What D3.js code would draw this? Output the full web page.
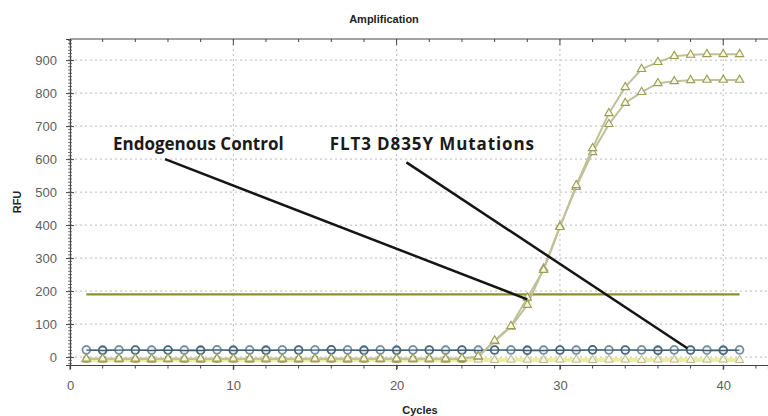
<!DOCTYPE html>
<html>
<head>
<meta charset="utf-8">
<script src="https://cdn.jsdelivr.net/npm/d3@7"></script>
<style>
  body { margin: 0; background: #fff; }
  .tick text { font-family: "Liberation Sans", Arial, sans-serif; }
</style>
</head>
<body>
<div class="container"></div>
<script>
// Chart data
const cycles = [1,2,3,4,5,6,7,8,9,10,11,12,13,14,15,16,17,18,19,20,21,22,23,24,25,26,27,28,29,30,31,32,33,34,35,36,37,38,39,40,41];
const ampUpper = [-5,-5,-5,-5,-5,-5,-5,-5,-5,-5,-5,-5,-5,-5,-5,-5,-5,-5,-5,-5,-5,-5,-5,-4,2,50,94,180,264,394,521,633,739,818,873,894,912,916,918,918,918];
const ampLower = [-5,-5,-5,-5,-5,-5,-5,-5,-5,-5,-5,-5,-5,-5,-5,-5,-5,-5,-5,-5,-5,-5,-5,-4,1,48,92,158,268,396,515,621,706,770,803,830,836,839,840,840,840];
const ctrlLight = [22,22,22,22,22,22,22,22,22,22,22,22,22,22,22,22,22,22,22,22,22,22,22,22,22,22,22,22,22,22,22,22,22,22,22,22,22,22,22,22,22];
const ctrlDark = [21,20,21,21,20,21,20,20,22,20,21,20,21,21,21,22,21,20,21,20,21,21,20,21,20,21,21,20,20,21,20,22,21,21,21,20,21,21,20,20,21];
const negSquares = [-7,-6,-6,-7,-6,-6,-7,-6,-7,-7,-6,-6,-7,-6,-6,-7,-6,-7,-6,-7,-6,-6,-6,-7];
const negTriangles = [-8,-9,-8,-8,-9,-8,-8,-9,-8,-8,-9,-8,-8,-9,-8,-8,-9,-8,-8,-9,-8,-8,-9,-8,-8,-9,-8,-8,-9,-8,-8,-9,-8,-8,-9,-8,-8,-9,-8,-8,-9];
const threshold = 190;
const yTicks = [0,100,200,300,400,500,600,700,800,900];
const xTicks = [0,10,20,30,40];
const notes = [
  {label: "Endogenous Control", tx: 2.63, ty: 627, from: [5.82, 600], to: [28.0, 175]},
  {label: "FLT3 D835Y Mutations", tx: 15.9, ty: 627, from: [20.6, 590], to: [37.8, 27]}
];

// Define the dimensions
const w = 768;
const h = 416;
const padLeft = 70, padTop = 39, axisY = 365;

// Create scales
const xScale = d3.scaleLinear().domain([0, 42.74]).range([padLeft, w]);
const yScale = d3.scaleLinear().domain([-24, 964]).range([axisY, padTop]);

// Create SVG container
const svg = d3.select(".container")
       .append("svg")
       .attr("width", w)
       .attr("height", h);

// Grid lines
svg.append("g")
       .selectAll("line")
       .data(yTicks)
       .enter()
       .append("line")
       .attr("x1", padLeft).attr("x2", w)
       .attr("y1", d => yScale(d)).attr("y2", d => yScale(d))
       .attr("stroke", "#b9b9b9")
       .attr("stroke-dasharray", "2,3");
svg.append("g")
       .selectAll("line")
       .data(xTicks.slice(1))
       .enter()
       .append("line")
       .attr("x1", d => xScale(d)).attr("x2", d => xScale(d))
       .attr("y1", padTop).attr("y2", axisY)
       .attr("stroke", "#b9b9b9")
       .attr("stroke-dasharray", "2,3");

// Threshold line
svg.append("line")
       .attr("x1", xScale(cycles[0]))
       .attr("x2", xScale(cycles[cycles.length - 1]))
       .attr("y1", yScale(threshold))
       .attr("y2", yScale(threshold))
       .attr("stroke", "#8f8f2c")
       .attr("stroke-width", 2.2);

const line = d3.line()
       .x((d, i) => xScale(cycles[i]))
       .y(d => yScale(d));

// Negative samples near baseline
svg.append("path")
       .attr("d", line(negTriangles))
       .attr("fill", "none")
       .attr("stroke", "#ecec9e")
       .attr("stroke-width", 4);
svg.append("path")
       .attr("d", line(negSquares))
       .attr("fill", "none")
       .attr("stroke", "#b5b56a")
       .attr("stroke-width", 1.2);

const tri = d3.symbol().type(d3.symbolTriangle).size(30);
const sq = d3.symbol().type(d3.symbolSquare).size(26);

svg.append("g")
       .selectAll("path")
       .data(negTriangles)
       .enter()
       .append("path")
       .attr("d", tri)
       .attr("transform", (d, i) => `translate(${xScale(cycles[i])},${yScale(d)})`)
       .attr("fill", "#f6f6e4")
       .attr("stroke", "#b8b88a")
       .attr("stroke-width", 1);
svg.append("g")
       .selectAll("path")
       .data(negSquares)
       .enter()
       .append("path")
       .attr("d", sq)
       .attr("transform", (d, i) => `translate(${xScale(cycles[i])},${yScale(d)})`)
       .attr("fill", (d, i) => i % 3 == 0 ? "#e8e8c0" : "#9a9a34")
       .attr("stroke", "#7f7f2a")
       .attr("stroke-width", 1);

// Control circles
[ctrlLight, ctrlDark].forEach((series, k) => {
  svg.append("path")
       .attr("d", line(series))
       .attr("fill", "none")
       .attr("stroke", k ? "#3f5c70" : "#8aa4b6")
       .attr("stroke-width", 1.3);
  svg.append("g")
       .selectAll("circle")
       .data(series)
       .enter()
       .append("circle")
       .attr("cx", (d, i) => xScale(cycles[i]))
       .attr("cy", d => yScale(d))
       .attr("r", 3.9)
       .attr("fill", "#f4f7f9")
       .attr("fill-opacity", k ? 0 : 1)
       .attr("stroke", k ? "#3a5a72" : "#8ea7b8")
       .attr("stroke-opacity", (d, i) => k ? (i % 2 ? 0.85 : 0.35) : 1)
       .attr("stroke-width", 1.6);
});

// Amplification curves
[ampLower, ampUpper].forEach(series => {
  svg.append("path")
       .attr("d", line(series))
       .attr("fill", "none")
       .attr("stroke", "#bfc199")
       .attr("stroke-width", 2);
  svg.append("g")
       .selectAll("path")
       .data(series)
       .enter()
       .append("path")
       .attr("d", tri)
       .attr("transform", (d, i) => `translate(${xScale(cycles[i])},${yScale(d)})`)
       .attr("fill", "#f7f7e6")
       .attr("stroke", "#9d9d55")
       .attr("stroke-width", 1.1);
});

// Create and append x-axis
const xAxis = d3.axisBottom(xScale).tickValues(xTicks).tickSize(4).tickPadding(12);
svg.append("g")
       .attr("id", "x-axis")
       .attr("transform", `translate(0,${axisY})`)
       .call(xAxis)
       .call(g => g.select(".domain").attr("stroke", "#444").attr("stroke-width", 1.2))
       .call(g => g.selectAll(".tick line").attr("stroke", "#444"))
       .call(g => g.selectAll("text").attr("font-size", 13).attr("fill", "#5e5e5e"));

const minorX = d3.range(0, 43, 2);
svg.append("g")
       .selectAll("line")
       .data(minorX)
       .enter()
       .append("line")
       .attr("x1", d => xScale(d)).attr("x2", d => xScale(d))
       .attr("y1", axisY).attr("y2", d => axisY + (d % 10 == 0 ? 5 : 3.5))
       .attr("stroke", "#444");

// Top border with ticks
svg.append("line")
       .attr("x1", padLeft).attr("x2", w)
       .attr("y1", padTop).attr("y2", padTop)
       .attr("stroke", "#444")
       .attr("stroke-width", 1.2);
svg.append("g")
       .selectAll("line")
       .data(minorX)
       .enter()
       .append("line")
       .attr("x1", d => xScale(d)).attr("x2", d => xScale(d))
       .attr("y1", padTop).attr("y2", d => padTop + (d % 10 == 0 ? 6 : 3))
       .attr("stroke", "#444");

// Create and append y-axis
const yAxis = d3.axisLeft(yScale).tickValues(yTicks).tickSize(4).tickPadding(9);
svg.append("g")
       .attr("id", "y-axis")
       .attr("transform", `translate(${padLeft},0)`)
       .call(yAxis)
       .call(g => g.select(".domain").attr("stroke", "#444").attr("stroke-width", 1.2))
       .call(g => g.selectAll(".tick line").attr("stroke", "#444").attr("x2", -4).attr("x1", 4))
       .call(g => g.selectAll("text").attr("font-size", 13).attr("fill", "#5e5e5e"));

const minorY = d3.range(-20, 961, 10);
svg.append("g")
       .selectAll("line")
       .data(minorY)
       .enter()
       .append("line")
       .attr("x1", padLeft - 2).attr("x2", padLeft + 2)
       .attr("y1", d => yScale(d)).attr("y2", d => yScale(d))
       .attr("stroke", "#555")
       .attr("stroke-width", 0.8);

// Title and axis labels
svg.append("text")
       .attr("x", 384).attr("y", 23)
       .attr("text-anchor", "middle")
       .style("font", "bold 11px 'Liberation Sans', Arial, sans-serif")
       .attr("fill", "#222")
       .text("Amplification");

svg.append("text")
       .attr("transform", "rotate(-90)")
       .attr("x", -202).attr("y", 21)
       .attr("text-anchor", "middle")
       .style("font", "bold 11px 'Liberation Sans', Arial, sans-serif")
       .attr("fill", "#222")
       .text("RFU");

svg.append("text")
       .attr("x", 420).attr("y", 414)
       .attr("text-anchor", "middle")
       .style("font", "bold 11px 'Liberation Sans', Arial, sans-serif")
       .attr("fill", "#222")
       .text("Cycles");

// Annotations
notes.forEach((n, i) => {
  svg.append("line")
       .attr("x1", xScale(n.from[0])).attr("y1", yScale(n.from[1]))
       .attr("x2", xScale(n.to[0])).attr("y2", yScale(n.to[1]))
       .attr("stroke", "#151515")
       .attr("stroke-width", 2.5);
  svg.append("text")
       .attr("x", xScale(n.tx)).attr("y", yScale(n.ty))
       .style("font", "bold 17px 'Open Sans', sans-serif")
       .style("letter-spacing", i ? "0.9px" : "0px")
       .attr("fill", "#1a1a1a")
       .text(n.label);
});
</script>
</body>
</html>
